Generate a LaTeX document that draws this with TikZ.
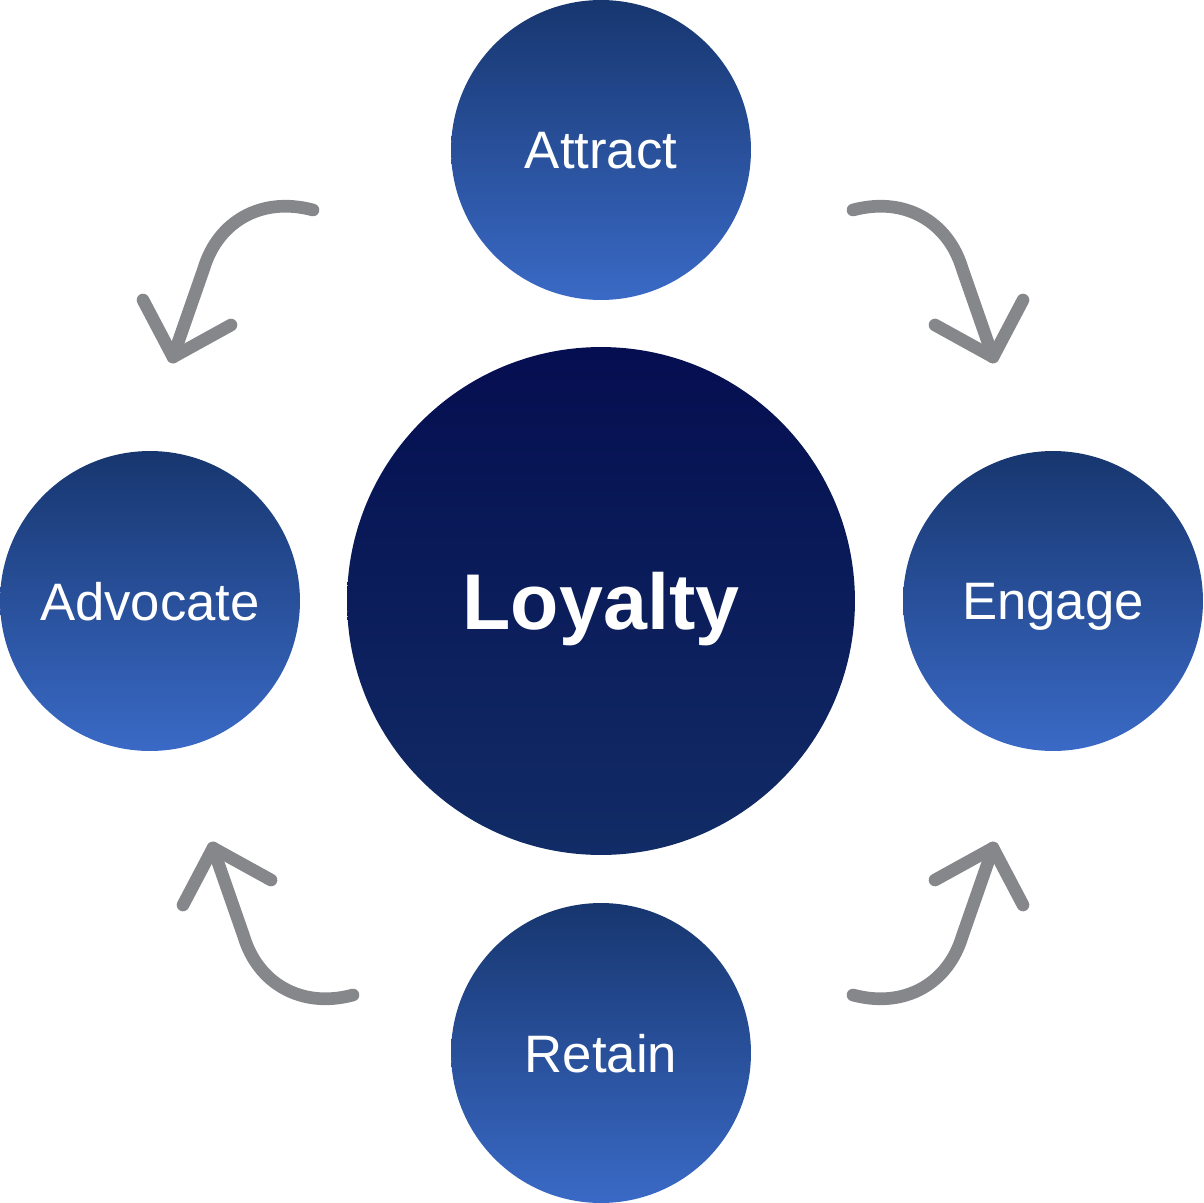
\documentclass[tikz,border=0pt]{standalone}
\usepackage{fontspec}
\setmainfont{Liberation Sans}
\definecolor{stageTop}{HTML}{17366F}
\definecolor{stageBot}{HTML}{3A6AC6}
\definecolor{coreTop}{HTML}{050E50}
\definecolor{coreBot}{HTML}{112C66}
\definecolor{loopgray}{HTML}{86878A}
\usetikzlibrary{positioning}

\begin{document}
\begin{tikzpicture}[x=0.02cm, y=-0.02cm,
    stage/.style={circle, minimum size=6cm, inner sep=0pt, text depth=0pt, top color=stageTop, bottom color=stageBot, text=white, font=\fontsize{30}{30}\selectfont},
    core/.style={circle, minimum size=10.16cm, inner sep=0pt, text depth=0pt, top color=coreTop, bottom color=coreBot, text=white, font=\fontsize{45}{45}\selectfont\bfseries},
    loop arrow/.style={draw=loopgray, line width=7.2pt, line cap=round, line join=round}
]
    \useasboundingbox (0,0) rectangle (1203,1203);

    % centre and the four stages
    \node[core] (loyalty) at (601,601) {Loyalty};
    \node[stage] (attract) at (601,150) {Attract};
    \node[stage] (engage) at (1053,601) {Engage};
    \node[stage] (retain) at (601,1053) {Retain};
    \node[stage] (advocate) at (150,601) {Advocate};

    % attract -> engage
    \draw[loop arrow] (853,210) .. controls (905,196) and (948,222) .. (962,268) -- (993,357);
    \draw[loop arrow] (935,325) -- (993,357) -- (1023,300);

    % engage -> retain
    \draw[loop arrow] (853,995) .. controls (905,1009) and (948,983) .. (962,937) -- (993,848);
    \draw[loop arrow] (935,880) -- (993,848) -- (1023,905);

    % retain -> advocate
    \draw[loop arrow] (353,995) .. controls (301,1009) and (258,983) .. (244,937) -- (213,848);
    \draw[loop arrow] (271,880) -- (213,848) -- (183,905);

    % advocate -> attract
    \draw[loop arrow] (313,210) .. controls (261,196) and (218,222) .. (204,268) -- (173,357);
    \draw[loop arrow] (231,325) -- (173,357) -- (143,300);
\end{tikzpicture}
\end{document}
